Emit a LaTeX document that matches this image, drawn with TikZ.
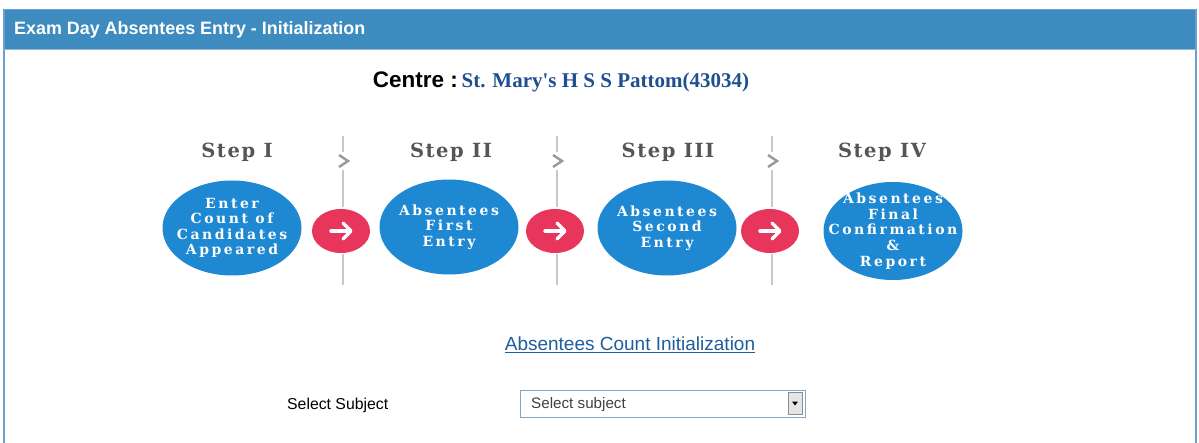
\documentclass[tikz,border=0pt]{standalone}
\usepackage{fontspec}
\setmainfont{Liberation Sans}
\newfontfamily\timesb{Liberation Serif}
\newfontfamily\deco[LetterSpace=18]{DejaVu Serif}
\newfontfamily\decostep[LetterSpace=8]{DejaVu Serif}
\usetikzlibrary{shapes.geometric}
\definecolor{hdr}{HTML}{3E8BC0}
\definecolor{frameblue}{HTML}{6C9FD2}
\definecolor{ellblue}{HTML}{1E88D2}
\definecolor{arrred}{HTML}{E8355C}
\definecolor{schoolblue}{HTML}{1E4F8E}
\definecolor{linkblue}{HTML}{1F5E9E}
\definecolor{stepgray}{HTML}{555555}
\definecolor{sepgray}{HTML}{C8C8C8}
\definecolor{boxblue}{HTML}{7FA7C9}
\tikzset{
  stepball/.style={ellipse, fill=ellblue, minimum width=139, minimum height=95, inner sep=0pt},
  balltext/.style={text=white, align=center, inner sep=0pt, font=\deco\bfseries\fontsize{14}{15.3}\selectfont},
  redball/.style={ellipse, fill=arrred, minimum width=58, minimum height=44, inner sep=0pt},
  steplabel/.style={text=stepgray, font=\decostep\bfseries\fontsize{19.5}{21}\selectfont},
  sepline/.style={draw=sepgray, line width=1.2},
  chev/.style={draw=stepgray!60, line width=2.4},
}
\begin{document}
\begin{tikzpicture}[x=1pt,y=-1pt]
\useasboundingbox (0,0) rectangle (1199,443);
\fill[white] (0,0) rectangle (1199,443);
% frame and header
\fill[hdr] (3.5,9) rectangle (1196.5,50);
\draw[frameblue, line width=1.5] (4,443) -- (4,9.5) -- (1196,9.5) -- (1196,443);
\draw[hdr!60, line width=1] (4,50) -- (1196,50);
\node[anchor=west, text=white, inner sep=0pt, font=\bfseries\fontsize{17.9}{20}\selectfont] (title) at (14,29.5) {Exam Day Absentees Entry - Initialization};
% centre
\node[anchor=base, inner sep=0pt] (centre) at (561,88) {{\bfseries\fontsize{22.5}{26}\selectfont Centre :} {\timesb\bfseries\fontsize{21}{26}\selectfont\color{schoolblue}St. Mary's H S S Pattom(43034)}};
% step labels
\node[steplabel] (s1) at (237,152) {Step I};
\node[steplabel] (s2) at (451,152) {Step II};
\node[steplabel] (s3) at (668,152) {Step III};
\node[steplabel] (s4) at (882,152) {Step IV};
% separators and red arrows
\foreach \i/\x in {1/343,2/557,3/772}{
  \coordinate (t\i) at (\x,136);
  \coordinate (b\i) at (\x,285);
  \node[redball] (r\i) at (\x-2,231) {};
  \draw[sepline] (t\i) -- (\x,207);
  \draw[sepline] (\x,254) -- (b\i);
  \fill[white] (\x-5,152) rectangle (\x+7,170);
  \draw[chev] (\x-4,155) -- (\x+5,161) -- (\x-4,167);
  \draw[white, line width=3.4, line cap=round] ([xshift=-10pt]r\i.center) -- ([xshift=9pt]r\i.center);
  \draw[white, line width=3.4, line cap=round, line join=round] ([xshift=2pt,yshift=-8pt]r\i.center) -- ([xshift=10pt]r\i.center) -- ([xshift=2pt,yshift=8pt]r\i.center);
}
% ellipses
\node[stepball] (e1) at (232,228) {};
\node[balltext] (e1t) at (e1.center) {Enter\\Count of\\Candidates\\Appeared};
\node[stepball] (e2) at (449,227) {};
\node[balltext] (e2t) at (e2.center) {Absentees\\First\\Entry};
\node[stepball] (e3) at (667,228) {};
\node[balltext] (e3t) at (e3.center) {Absentees\\Second\\Entry};
\node[stepball, minimum height=98] (e4) at (893,231) {};
\node[balltext, font=\deco\bfseries\fontsize{14}{15.8}\selectfont] (e4t) at (e4.center) {Absentees\\Final\\Confirmation\\\&\\Report};
% link
\node[anchor=base, inner sep=0pt, text=linkblue, font=\fontsize{19}{22}\selectfont] (link) at (630,351) {Absentees Count Initialization};
\draw[linkblue, line width=1] ([yshift=-2pt]link.base west) -- ([yshift=-2pt]link.base east);
% select row
\node[anchor=base west, inner sep=0pt, font=\fontsize{15.8}{18}\selectfont] (sellabel) at (287,409) {Select Subject};
\node[draw=boxblue, line width=1.2, minimum width=285, minimum height=27, inner sep=0pt, anchor=north west] (selbox) at (520,390) {};
\node[anchor=west, inner sep=0pt, text=black!75, font=\fontsize{15.2}{17}\selectfont] (seltext) at (531,404.5) {Select subject};
\node[draw=black!45, fill=black!10, minimum width=14, minimum height=22, inner sep=0pt] (btn) at (795,403.5) {};
\fill[black] ([xshift=-3pt,yshift=2pt]btn.center) -- ([xshift=3pt,yshift=2pt]btn.center) -- ([yshift=-2pt]btn.center) -- cycle;
\end{tikzpicture}
\end{document}
